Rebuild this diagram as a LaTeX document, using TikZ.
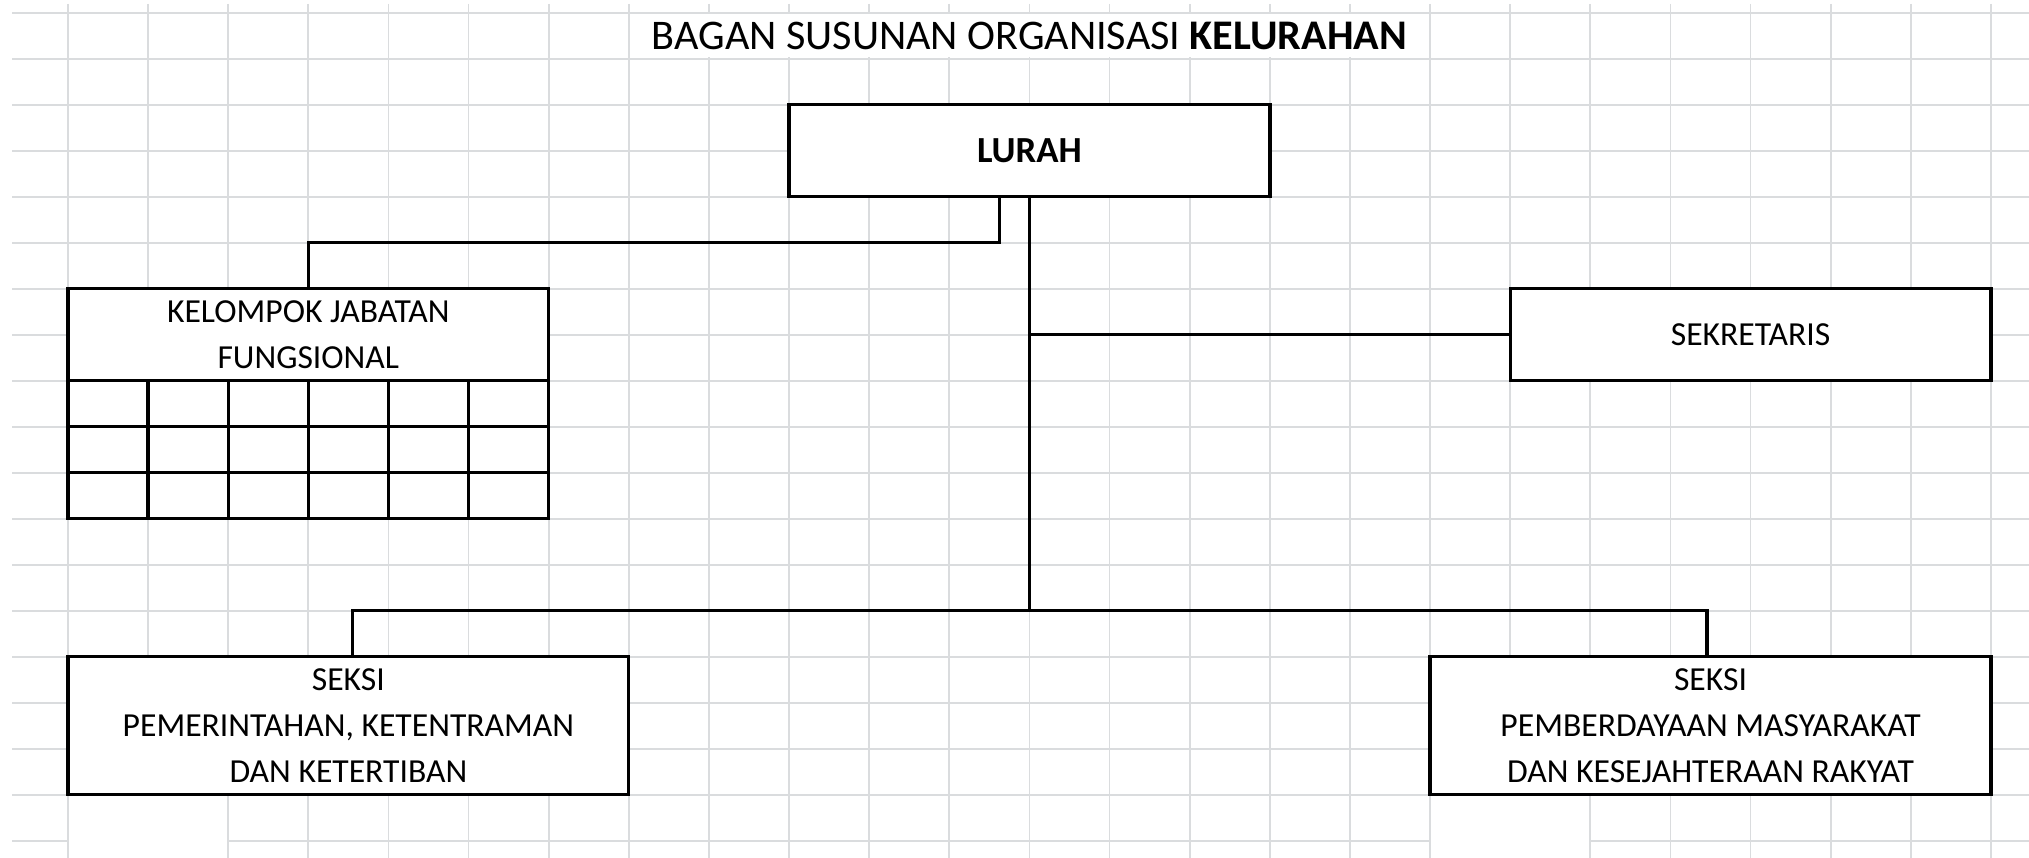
\documentclass[tikz,border=0pt]{standalone}
\usepackage{fontspec}
\setmainfont{Carlito}
\usetikzlibrary{calc}
\definecolor{gridgray}{RGB}{218,220,222}
\begin{document}
\begin{tikzpicture}[x=1pt,y=-1pt,
  gridline/.style={draw=gridgray, line width=1.3pt},
  conn/.style={draw=black, line width=2.6pt},
  box/.style={draw=black, line width=2.6pt, fill=white, inner sep=0pt, outer sep=0pt,
    minimum width=371.52pt, minimum height=71.1pt},
  widebox/.style={box, minimum width=433.44pt, minimum height=106.65pt},
  txt/.style={font=\fontsize{26}{31}\selectfont, text height=16.8pt, text depth=0pt, inner sep=0pt},
  bigtxt/.style={font=\fontsize{28.4}{34}\selectfont\bfseries, text height=18.3pt, text depth=0pt, inner sep=0pt},
  titletxt/.style={font=\fontsize{32.6}{38}\selectfont, text height=20.9pt, text depth=0pt, inner sep=0pt}
]
% background and canvas
\fill[white] (0,0) rectangle (1568,663);
\useasboundingbox (0,0) rectangle (1568,663);

% spreadsheet grid
\foreach \i in {0,...,24} \draw[gridline] ({52.5+61.92*\i},3) -- ({52.5+61.92*\i},663);
\foreach \j in {0,...,18} \draw[gridline] (9.5,{9.8+35.55*\j}) -- (1568,{9.8+35.55*\j});
% merged cells (no inner gridlines)
\fill[white] (486.9,10.8) rectangle (1104.2,44.4);
\fill[white] (53.5,615.2) rectangle (175.4,663);
\fill[white] (1106.1,615.2) rectangle (1228.0,663);

% title
\node[titletxt] (title) at (795.54,27.6) {BAGAN SUSUNAN ORGANISASI \textbf{KELURAHAN}};

% boxes
\node[box, bigtxt] (lurah) at (795.54,116.45) {LURAH};
\node[box] (kel) at (238.26,258.65) {};
\node[txt] (kel1) at ($(kel.center)+(0,-17.78)$) {KELOMPOK JABATAN};
\node[txt] (kel2) at ($(kel.center)+(0,17.78)$) {FUNGSIONAL};
\node[box, txt] (sek) at (1352.82,258.65) {SEKRETARIS};
\node[widebox] (pl) at (269.22,560.825) {};
\node[txt] (pl1) at ($(pl.center)+(0,-35.55)$) {SEKSI};
\node[txt] (pl2) at (pl.center) {PEMERINTAHAN, KETENTRAMAN};
\node[txt] (pl3) at ($(pl.center)+(0,35.55)$) {DAN KETERTIBAN};
\node[widebox] (pr) at (1321.86,560.825) {};
\node[txt] (pr1) at ($(pr.center)+(0,-35.55)$) {SEKSI};
\node[txt] (pr2) at (pr.center) {PEMBERDAYAAN MASYARAKAT};
\node[txt] (pr3) at ($(pr.center)+(0,35.55)$) {DAN KESEJAHTERAAN RAKYAT};

% table under KELOMPOK JABATAN FUNGSIONAL
\draw[conn, fill=white] (kel.south west) rectangle ($(kel.south east)+(0,106.65)$);
\foreach \i in {1,...,5}
  \draw[conn] ($(kel.south west)+({61.92*\i},0)$) -- ++(0,106.65);
\foreach \j in {1,2}
  \draw[conn] ($(kel.south west)+(0,{35.55*\j})$) -- ++(371.52,0);

% connectors
\coordinate (bus) at ($(lurah.south |- pl.north)+(0,-35.55)$);
\draw[conn] ([xshift=-23.1pt]lurah.south) -- ++(0,35.55) -| (kel.north);
\draw[conn] (lurah.south) -- (bus);
\draw[conn] (sek.west) -- (sek.west -| lurah.south);
\draw[conn] ([xshift=3.3pt]pl.north) -- ++(0,-35.55) -| ([xshift=-2.8pt]pr.north);
\end{tikzpicture}
\end{document}
